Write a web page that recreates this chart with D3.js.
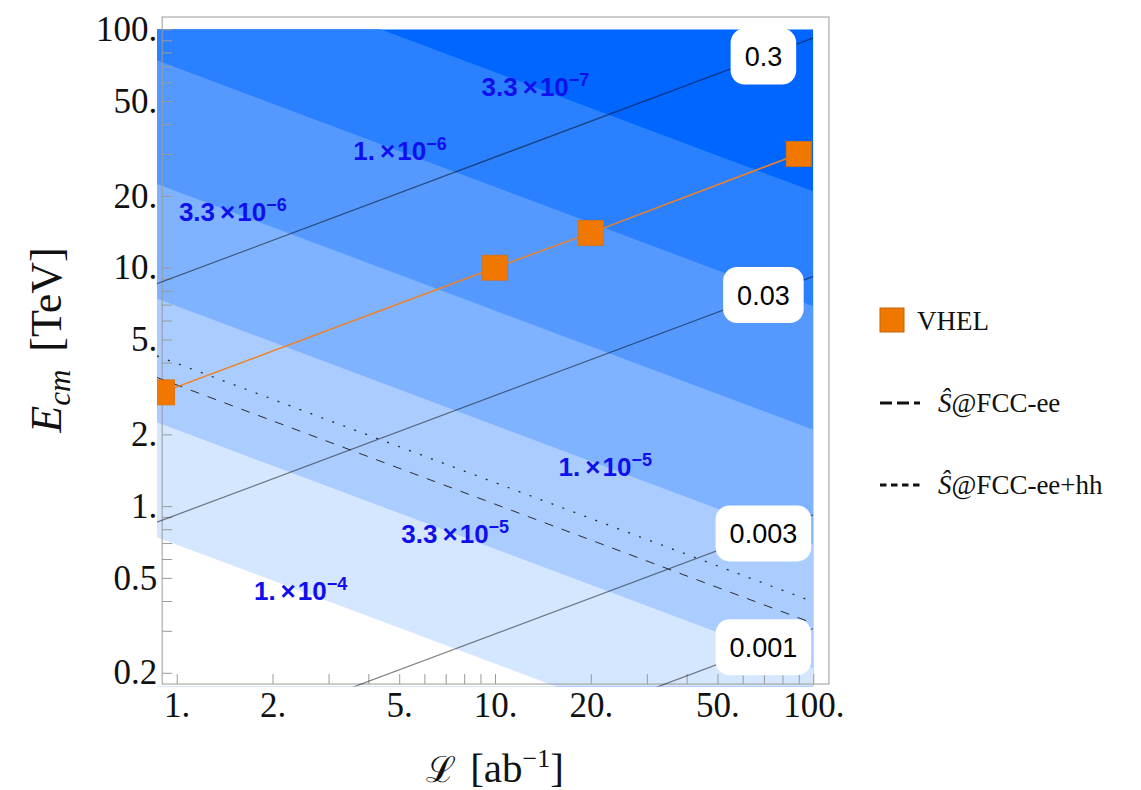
<!DOCTYPE html>
<html>
<head>
<meta charset="utf-8">
<script src="https://cdn.jsdelivr.net/npm/d3@7"></script>
<style>
  body { margin: 0; background: #fff; }
  svg { display: block; }
</style>
</head>
<body>
<svg id="chart" width="1141" height="790"></svg>
<script>
// VHEL benchmark points: integrated luminosity (ab^-1) and collision energy (TeV)
const vhelLumi = [0.9, 10, 20, 90];
const vhelEnergy = [3, 10, 14, 30];

// Shaded contours of k / (E * sqrt(L)), lowest level is the darkest band
const bandLevels = [3.3e-7, 1e-6, 3.3e-6, 1e-5, 3.3e-5, 1e-4];
const bandMantissa = ["3.3", "1.", "3.3", "1.", "3.3", "1."];
const bandExponent = ["\u22127", "\u22126", "\u22126", "\u22125", "\u22125", "\u22124"];
const bandLabelLumi = [13.4, 5.03, 1.5, 22.2, 7.5, 2.45];
const bandCoef = 6.9e-5;
const bandColors = ["#0066ff", "#2b80ff", "#5599ff", "#80b3ff", "#aaccff", "#d5e6ff", "#ffffff"];

// Line contours of k * E / sqrt(L)
const lineLevels = [0.3, 0.03, 0.003, 0.001];
const lineLabels = ["0.3", "0.03", "0.003", "0.001"];
const lineLabelLumi = 69.7;
const lineCoef = 0.0326;

// Oblique-parameter reach: E = a / sqrt(L)
const reachNames = ["FCC-ee", "FCC-ee+hh"];
const reachCoef = [3.224, 3.97];
const reachDash = ["9,9", "2,9.7"];
const legendDash = ["12,5", "6.5,4.5"];

// Axis ticks
const xTickMajor = [1, 2, 5, 10, 20, 50, 100];
const xTickLabels = ["1.", "2.", "5.", "10.", "20.", "50.", "100."];
const yTickMajor = [0.2, 0.5, 1, 2, 5, 10, 20, 50, 100];
const yTickLabels = ["0.2", "0.5", "1.", "2.", "5.", "10.", "20.", "50.", "100."];

// Data ranges: shaded region and frame
const plotL = [0.867, 100], plotE = [0.175, 100];
const frameL = [0.9, 112], frameE = [0.1794, 112.6];

const svg = d3.select("#chart");
const x = d3.scaleLog().domain(plotL).range([157, 813.3]);
const y = d3.scaleLog().domain(plotE).range([686.6, 29.3]);

const serif = "'Liberation Serif', 'Times New Roman', 'DejaVu Serif', serif";
const sans = "'Liberation Sans', Arial, Helvetica, sans-serif";

const defs = svg.append("defs");
defs.append("clipPath").attr("id", "plot-clip")
  .append("rect")
  .attr("x", x(plotL[0])).attr("y", y(plotE[1]))
  .attr("width", x(plotL[1]) - x(plotL[0]))
  .attr("height", y(plotE[0]) - y(plotE[1]));

const plot = svg.append("g").attr("clip-path", "url(#plot-clip)");

// Background band (below the lowest level)
plot.append("rect")
  .attr("x", x(plotL[0])).attr("y", y(plotE[1]))
  .attr("width", x(plotL[1]) - x(plotL[0]))
  .attr("height", y(plotE[0]) - y(plotE[1]))
  .attr("fill", bandColors[0]);

// Each level fills everything below its contour with the next lighter shade
bandLevels.forEach((q, i) => {
  const area = d3.area()
    .x(L => x(L))
    .y0(y(plotE[0]) + 2)
    .y1(L => y(bandCoef / (q * Math.sqrt(L))));
  plot.append("path")
    .datum(plotL)
    .attr("d", area)
    .attr("fill", bandColors[i + 1]);
});

// Frame and ticks
const frame = svg.append("g");
frame.append("rect")
  .attr("x", x(frameL[0])).attr("y", y(frameE[1]))
  .attr("width", x(frameL[1]) - x(frameL[0]))
  .attr("height", y(frameE[0]) - y(frameE[1]))
  .attr("fill", "none").attr("stroke", "#9a9a9a").attr("stroke-width", 1);

const xAxis = d3.axisBottom(x)
  .tickValues(x.ticks().filter(v => v >= 1 && v <= 100))
  .tickSizeInner(-10).tickSizeOuter(0).tickPadding(8)
  .tickFormat(v => {
    const k = xTickMajor.findIndex(m => Math.abs(m - v) < 1e-9);
    return k >= 0 ? xTickLabels[k] : "";
  });
const yAxis = d3.axisLeft(y)
  .tickValues(y.ticks().filter(v => v >= 0.2 && v <= 100))
  .tickSizeInner(-10).tickSizeOuter(0).tickPadding(5)
  .tickFormat(v => {
    const k = yTickMajor.findIndex(m => Math.abs(m - v) < 1e-9);
    return k >= 0 ? yTickLabels[k] : "";
  });

const gx = frame.append("g").attr("transform", `translate(0,${y(frameE[0])})`).call(xAxis);
const gy = frame.append("g").attr("transform", `translate(${x(frameL[0])},0)`).call(yAxis);
[gx, gy].forEach(g => {
  g.select(".domain").remove();
  g.selectAll(".tick line").attr("stroke", "#9a9a9a");
  g.selectAll(".tick text")
    .attr("fill", "#111")
    .style("font-family", serif)
    .style("font-size", "35px");
});

// Line contours
const lines = svg.append("g").attr("clip-path", "url(#plot-clip)");
lineLevels.forEach(p => {
  const line = d3.line().x(L => x(L)).y(L => y(p * Math.sqrt(L) / lineCoef));
  lines.append("path").datum(plotL).attr("d", line)
    .attr("fill", "none").attr("stroke", "#000").attr("stroke-opacity", 0.5)
    .attr("stroke-width", 1.2);
});

// Reach curves
reachCoef.forEach((a, i) => {
  const line = d3.line().x(L => x(L)).y(L => y(a / Math.sqrt(L)));
  lines.append("path").datum(plotL).attr("d", line)
    .attr("fill", "none").attr("stroke", "#2a2a2a")
    .attr("stroke-width", i === 0 ? 1 : 1.3)
    .attr("stroke-dasharray", reachDash[i]);
});

// VHEL benchmark line and markers
const vhel = vhelLumi.map((L, i) => [L, vhelEnergy[i]]);
lines.append("path").datum(vhel)
  .attr("d", d3.line().x(d => x(d[0])).y(d => y(d[1])))
  .attr("fill", "none").attr("stroke", "#f08020").attr("stroke-width", 1.5);
lines.selectAll("rect.vhel").data(vhel).join("rect")
  .attr("class", "vhel")
  .attr("x", d => x(d[0]) - 12.5).attr("y", d => y(d[1]) - 12.5)
  .attr("width", 25).attr("height", 25)
  .attr("fill", "#f07800").attr("stroke", "#e06e00").attr("stroke-width", 0.8);

// Labels on the line contours
const lineLab = svg.append("g");
lineLevels.forEach((p, i) => {
  const cx = x(lineLabelLumi);
  const cy = y(p * Math.sqrt(lineLabelLumi) / lineCoef);
  const g = lineLab.append("g");
  const r = g.append("rect").attr("fill", "#fff").attr("rx", 14).attr("ry", 14);
  const t = g.append("text")
    .attr("x", cx).attr("y", cy + 9.5)
    .attr("text-anchor", "middle")
    .style("font-family", sans).style("font-size", "27px")
    .attr("fill", "#000")
    .text(lineLabels[i]);
  const w = t.node().getComputedTextLength() + 28;
  r.attr("x", cx - w / 2).attr("y", cy - 28).attr("width", w).attr("height", 56);
});

// Labels on the shaded contours
const bandLab = svg.append("g");
bandLevels.forEach((q, i) => {
  const L = bandLabelLumi[i];
  const cx = x(L);
  const cy = y(bandCoef / (q * Math.sqrt(L)));
  const t = bandLab.append("text")
    .attr("x", cx).attr("y", cy + 9)
    .attr("text-anchor", "middle")
    .style("font-family", sans).style("font-size", "26px").style("font-weight", "bold")
    .attr("fill", "#1010ee");
  t.append("tspan").text(bandMantissa[i]);
  t.append("tspan").attr("dx", 5).text("\u00d7");
  t.append("tspan").attr("dx", 2).text("10");
  t.append("tspan").attr("dy", -10).style("font-size", "18px").text(bandExponent[i]);
});

// Axis titles
const xt = svg.append("text")
  .attr("x", 495).attr("y", 782)
  .attr("text-anchor", "middle")
  .style("font-family", serif).style("font-size", "41px").attr("fill", "#111");
xt.append("tspan").style("font-family", "'DejaVu Serif', serif").style("font-size", "36px").text("\u2112");
xt.append("tspan").attr("dx", 14).text("[ab");
xt.append("tspan").attr("dy", -15).style("font-size", "26px").text("\u22121");
xt.append("tspan").attr("dy", 15).text("]");

const yt = svg.append("text")
  .attr("transform", "translate(61,340) rotate(-90)")
  .attr("text-anchor", "middle")
  .style("font-family", serif).style("font-size", "44px").attr("fill", "#111");
yt.append("tspan").style("font-style", "italic").text("E");
yt.append("tspan").attr("dy", 9).style("font-style", "italic").style("font-size", "31px").text("cm");
yt.append("tspan").attr("dy", -9).attr("dx", 18).text("[TeV]");

// Legend
const leg = svg.append("g");
leg.append("rect").attr("x", 880).attr("y", 308).attr("width", 24).attr("height", 24)
  .attr("fill", "#f07800").attr("stroke", "#c86400").attr("stroke-width", 1);
leg.append("text").attr("x", 917).attr("y", 330)
  .style("font-family", serif).style("font-size", "27px").attr("fill", "#111").text("VHEL");

const legY = [403, 485];
reachNames.forEach((name, i) => {
  leg.append("line").attr("x1", 880).attr("x2", 920).attr("y1", legY[i]).attr("y2", legY[i])
    .attr("stroke", "#111").attr("stroke-width", 3).attr("stroke-dasharray", legendDash[i]);
  const t = leg.append("text").attr("x", 938).attr("y", legY[i] + 9)
    .style("font-family", serif).style("font-size", "27px").attr("fill", "#111");
  t.append("tspan").style("font-style", "italic").text("\u015c");
  t.append("tspan").text("@" + name);
});
</script>
</body>
</html>
